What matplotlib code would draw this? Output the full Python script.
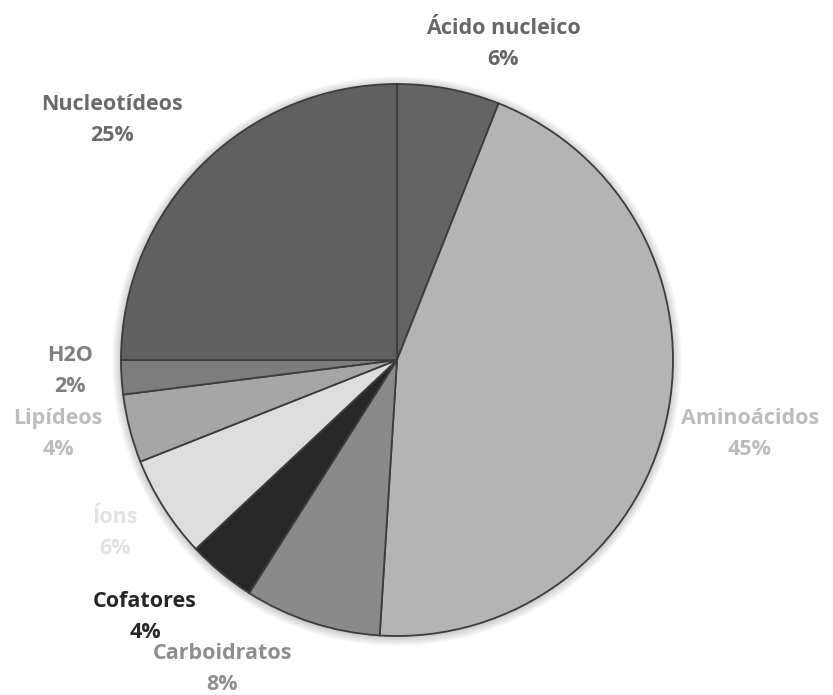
import matplotlib
matplotlib.use("Agg")
import matplotlib.pyplot as plt

# data, clockwise from 12 o'clock
categories = ["Ácido nucleico", "Aminoácidos", "Carboidratos", "Cofatores",
              "Íons", "Lipídeos", "H2O", "Nucleotídeos"]
shares = [6, 45, 8, 4, 6, 4, 2, 25]

slice_colors = ["#646464", "#b4b4b4", "#8a8a8a", "#272727",
                "#dddddd", "#a6a6a6", "#7d7d7d", "#606060"]
label_colors = ["#666666", "#bcbcbc", "#8e8e8e", "#262626",
                "#e2e2e2", "#bdbdbd", "#7f7f7f", "#6a6a6a"]
# label block centres, in units of the pie radius
label_xy = [(0.384, 1.145), (1.279, -0.268), (-0.634, -1.120), (-0.913, -0.931),
            (-1.022, -0.627), (-1.228, -0.268), (-1.185, -0.040), (-1.033, 0.870)]

W, H, DPI = 833, 695, 100
cx, cy, R = 397, 360, 276

fig = plt.figure(figsize=(W / DPI, H / DPI), dpi=DPI)
ax = fig.add_axes([0, 0, 1, 1])
ax.set_aspect("equal")
ax.axis("off")

# soft shadow like the spreadsheet original
for i in range(8):
    sh = plt.Circle((0.0, -0.004), 1.0 + 0.004 * (i + 1), color="black",
                    alpha=0.025, zorder=0, lw=0)
    ax.add_patch(sh)

ax.pie(shares, colors=slice_colors, startangle=90, counterclock=False,
       radius=1.0, wedgeprops=dict(edgecolor="#3c3c3c", linewidth=1.3),
       normalize=True)
ax.set_xlim(-cx / R, (W - cx) / R)
ax.set_ylim(-(H - cy) / R, cy / R)

for name, val, col, (x, y) in zip(categories, shares, label_colors, label_xy):
    ax.text(x, y, f"{name}\n{val}%", ha="center", va="center", color=col,
            fontsize=15.5, fontweight="bold", family="Open Sans", linespacing=1.6)

fig.savefig("out.png", dpi=DPI)
